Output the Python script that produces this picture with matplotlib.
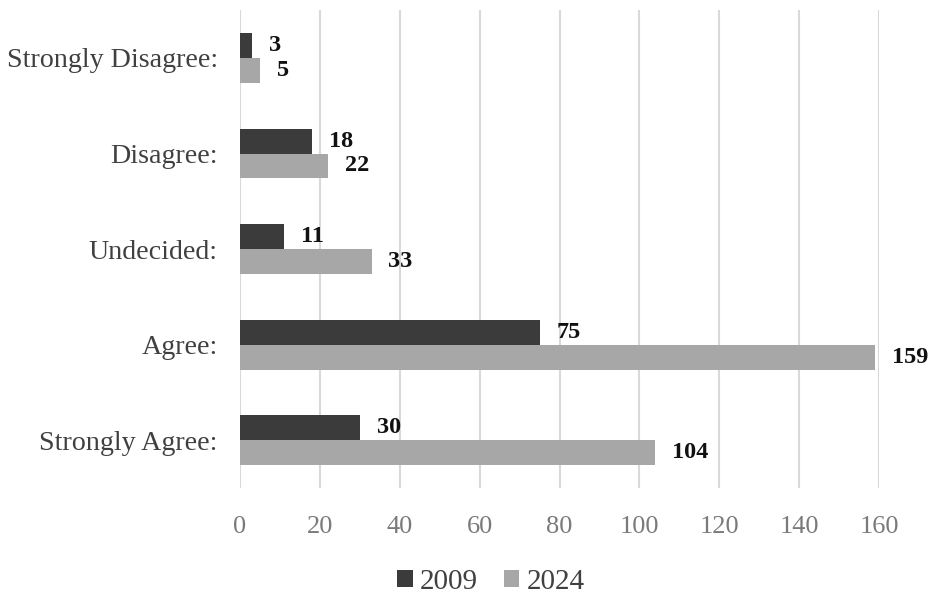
import matplotlib
matplotlib.use("Agg")
import matplotlib.pyplot as plt
import numpy as np

categories = ["Strongly Disagree:", "Disagree:", "Undecided:", "Agree:", "Strongly Agree:"]
series_names = ["2009", "2024"]
values_2009 = [3, 18, 11, 75, 30]
values_2024 = [5, 22, 33, 159, 104]
x_ticks = [0, 20, 40, 60, 80, 100, 120, 140, 160]

plt.rcParams["font.family"] = ["Liberation Serif", "DejaVu Serif"]

fig = plt.figure(figsize=(9.48, 6.01), dpi=100)
ax = fig.add_axes([0.2532, 0.188, 0.9272 - 0.2532, 0.795])

y = np.arange(len(categories))
h = 0.26
dark = "#3b3b3b"
light = "#a7a7a7"

b1 = ax.barh(y - h / 2, values_2009, height=h, color=dark, label=series_names[0], zorder=3)
b2 = ax.barh(y + h / 2, values_2024, height=h, color=light, label=series_names[1], zorder=3)

for bars in (b1, b2):
    ax.bar_label(bars, labels=[str(v) for v in bars.datavalues], padding=12,
                 fontsize=17.5, fontweight="bold", color="#111111", clip_on=False)

ax.set_ylim(len(categories) - 0.5, -0.5)
ax.set_xlim(0, 160)
ax.set_yticks(y)
ax.set_yticklabels(categories, fontsize=20.2, color="#404040")
ax.set_xticks(x_ticks)
ax.set_xticklabels([str(t) for t in x_ticks], fontsize=19, color="#7a7a7a")
ax.tick_params(axis="both", length=0)
ax.tick_params(axis="x", pad=20)
ax.tick_params(axis="y", pad=16)

ax.grid(axis="x", color="#d9d9d9", linewidth=1.5, zorder=0)
ax.set_axisbelow(True)
for s in ax.spines.values():
    s.set_visible(False)

leg = fig.legend(handles=[b1, b2], labels=series_names, loc="center",
                 bbox_to_anchor=(0.518, 0.032), ncol=2, frameon=False,
                 fontsize=21, handlelength=0.52, handleheight=0.52,
                 handletextpad=0.25, columnspacing=0.9)
for t in leg.get_texts():
    t.set_color("#404040")

fig.savefig("out.png", dpi=100, facecolor="white")
